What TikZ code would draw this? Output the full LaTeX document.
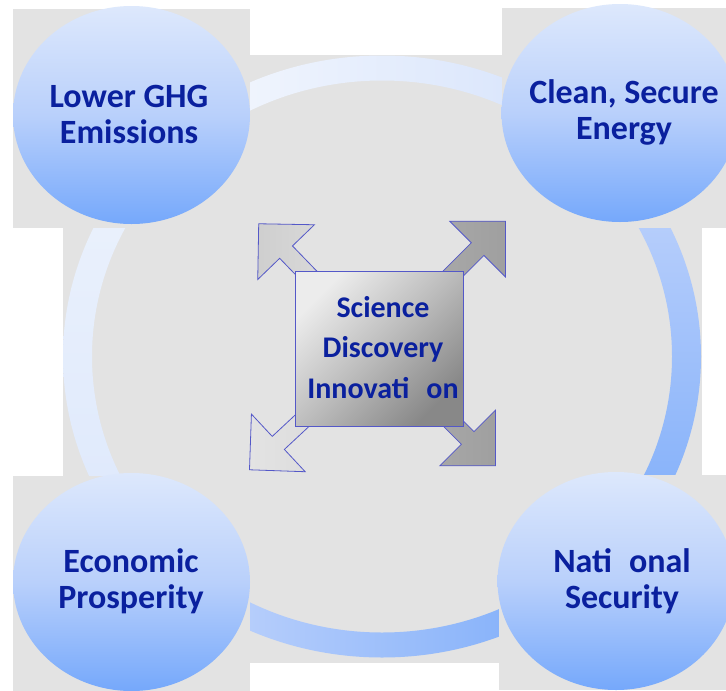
\documentclass[tikz,border=0pt]{standalone}
\usepackage{fontspec}
\setmainfont{Carlito}
\usetikzlibrary{shapes,arrows,positioning,calc}

\definecolor{bggray}{RGB}{227,227,227}
\definecolor{txtblue}{RGB}{10,32,158}
\definecolor{edgeblue}{RGB}{84,88,200}
\definecolor{bubtop}{RGB}{221,232,252}
\definecolor{bubmid}{RGB}{185,208,251}
\definecolor{bubbot}{RGB}{117,168,251}
\definecolor{paleA}{RGB}{239,244,253}
\definecolor{paleB}{RGB}{220,231,252}
\definecolor{paleC}{RGB}{233,240,252}
\definecolor{paleD}{RGB}{224,234,252}
\definecolor{deepA}{RGB}{181,205,251}
\definecolor{deepB}{RGB}{138,180,250}
\definecolor{coreA}{RGB}{236,236,236}
\definecolor{coreB}{RGB}{188,188,188}
\definecolor{coreC}{RGB}{136,136,136}

\begin{document}
\begin{tikzpicture}[x=1pt, y=-1pt,
    bubble/.style={ellipse, minimum width=237pt, minimum height=218pt, inner sep=0pt,
        top color=bubtop, bottom color=bubbot, middle color=bubmid},
    bubbletext/.style={align=center, text=txtblue, font=\fontsize{34}{36}\selectfont\bfseries},
    core/.style={draw=edgeblue, line width=0.8pt, minimum width=168pt, minimum height=155pt,
        top color=coreA, bottom color=coreC, middle color=coreB, shading angle=45},
    coretext/.style={align=center, text=txtblue, font=\fontsize{30}{40.5}\selectfont\bfseries},
    burst/.style={single arrow, draw=edgeblue, line width=0.8pt, inner sep=8.5pt,
        single arrow head extend=30.5pt}
]
    \useasboundingbox (0,0) rectangle (726,691);
    \fill[white] (0,0) rectangle (726,691);
    \fill[bggray] (63,55) rectangle (702,663);

    % ring round the core, one piece between each pair of bubbles
    \coordinate (ringc) at (382,356.5);
    \begin{scope}[even odd rule]
        \clip (250,0) rectangle (502,356.5);
        \clip (ringc) ellipse (319 and 301) (ringc) ellipse (290 and 276);
        \shade[left color=paleA, right color=paleB] (250,45) rectangle (502,120);
    \end{scope}
    \begin{scope}[even odd rule]
        \clip (382,228) rectangle (726,475);
        \clip (ringc) ellipse (319 and 301) (ringc) ellipse (290 and 276);
        \shade[top color=deepA, bottom color=deepB] (620,228) rectangle (710,475);
    \end{scope}
    \begin{scope}[even odd rule]
        \clip (250,356.5) rectangle (499,691);
        \clip (ringc) ellipse (319 and 301) (ringc) ellipse (290 and 276);
        \shade[left color=deepA, right color=deepB] (250,590) rectangle (499,665);
    \end{scope}
    \begin{scope}[even odd rule]
        \clip (0,228) rectangle (382,476);
        \clip (ringc) ellipse (319 and 301) (ringc) ellipse (290 and 276);
        \shade[top color=paleC, bottom color=paleD] (55,228) rectangle (150,476);
    \end{scope}

    % bubbles on their own gray tiles
    \fill[bggray] (13,9) rectangle (250,228);
    \fill[bggray] (502,8) rectangle (726,228);
    \fill[bggray] (13,476) rectangle (250,691);
    \fill[bggray] (499,475) rectangle (726,690);

    \node[bubble] (ghg) at (131.5,115) {};
    \node[bubble] (energy) at (620,113) {};
    \node[bubble] (econ) at (131.5,582) {};
    \node[bubble] (secur) at (616,581) {};

    \node[bubbletext] (ghgtext) at (129,114) {Lower GHG\\Emissions};
    \node[bubbletext] (energytext) at (624,112) {Clean, Secure\\Energy};
    \node[bubbletext] (econtext) at (131,581) {Economic\\Prosperity};
    \node[bubbletext] (securtext) at (622,581) {Nati\hspace{17pt}onal\\Security};

    \node[text=txtblue, font=\fontsize{34}{36}\selectfont\bfseries, anchor=base east] (frag) at (2,236) {s};

    % arrows bursting out of the core
    \coordinate (mid) at (379,348.5);
    \node[burst, rotate=134, minimum height=169pt, left color=gray!38, right color=gray!22]
        (nw) at ($(mid)!0.5!(262,227)$) {};
    \node[burst, rotate=45, minimum height=175pt, left color=gray!62, right color=gray!75]
        (ne) at ($(mid)!0.5!(502,224)$) {};
    \node[burst, rotate=223, minimum height=173pt, left color=gray!22, right color=gray!32]
        (sw) at ($(mid)!0.5!(253,467)$) {};
    \node[burst, rotate=-45, minimum height=161pt, left color=gray!62, right color=gray!75]
        (se) at ($(mid)!0.5!(492,463)$) {};

    \node[core] (core) at (mid) {};
    \node[coretext, anchor=base] (corelabel) at (383,398) {Science\\Discovery\\Innovati\hspace{17pt}on};
\end{tikzpicture}
\end{document}
